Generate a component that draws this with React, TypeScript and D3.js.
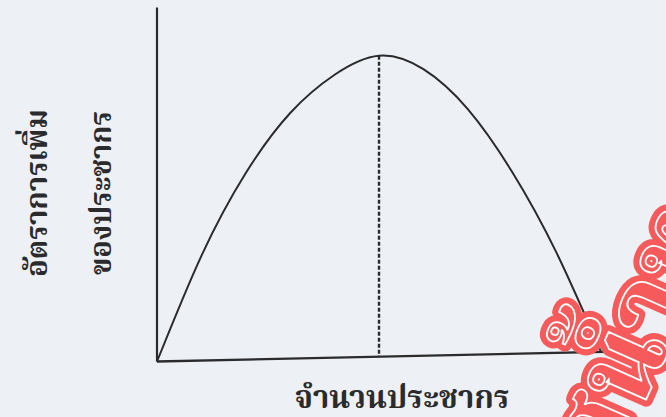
import React from "react";
import * as d3 from "d3";

// Population size (share of carrying capacity, %) and the growth rate at that size
const population = [0, 10, 20, 30, 40, 50, 60, 70, 80, 90, 100];
const growthRate = [0, 8.7, 15.5, 20.4, 23.5, 25.0, 23.8, 20.4, 15.1, 8.3, 0];

// Population at which growth peaks (dashed guide)
const peakPopulation = [50];

// Axis extents in data units
const xAxisEnd = [115];
const yAxisEnd = [29.4];

const xLabel = "จำนวนประชากร";
const yLabelLines = ["อัตราการเพิ่ม", "ของประชากร"];
const watermark = "สน้ำท";

const W = 666;
const H = 417;

export default function App() {
  const x = d3.scaleLinear().domain([0, 100]).range([157, 601]);
  const y = d3.scaleLinear().domain([0, 25]).range([361.5, 60.5]);

  const points: [number, number][] = population.map((p, i) => [p, growthRate[i]]);
  const line = d3
    .line<[number, number]>()
    .x((d) => x(d[0]))
    .y((d) => y(d[1]))
    .curve(d3.curveNatural);

  const peakIdx = growthRate.indexOf(d3.max(growthRate) as number);
  const peakX = x(peakPopulation[0]);

  const ox = x(0);
  const oy = y(0);
  const ink = "#2b2b2d";
  const thaiFont =
    "Norasi, Kinnari, 'Noto Serif Thai', 'Noto Sans Thai Looped', Garuda, Loma, 'Noto Sans Thai', 'DejaVu Serif', serif";

  return (
    <svg
      width={W}
      height={H}
      viewBox={`0 0 ${W} ${H}`}
      style={{ position: "absolute", left: 0, top: 0, background: "#edf0f4" }}
    >
      <rect x={0} y={0} width={W} height={H} fill="#edf0f4" />

      {/* plot area, with the page's slight baseline tilt */}
      <g transform={`translate(${ox},${oy}) skewY(-1.24) translate(${-ox},${-oy})`}>
        <line x1={ox} y1={y(0)} x2={ox} y2={y(yAxisEnd[0])} stroke={ink} strokeWidth={2.2} />
        <line x1={ox} y1={y(0)} x2={x(xAxisEnd[0])} y2={y(0)} stroke={ink} strokeWidth={2.4} />
        <line
          x1={peakX}
          y1={y(growthRate[peakIdx])}
          x2={peakX}
          y2={y(0)}
          stroke={ink}
          strokeWidth={2.4}
          strokeDasharray="4 2"
        />
        <path d={line(points) ?? ""} fill="none" stroke={ink} strokeWidth={2} />
      </g>

      {/* axis titles */}
      <text
        x={402}
        y={408}
        textAnchor="middle"
        fontFamily={thaiFont}
        fontWeight="bold"
        fontSize={32}
        textLength={215}
        lengthAdjust="spacingAndGlyphs"
        fill={ink}
      >
        {xLabel}
      </text>
      {yLabelLines.map((t, i) => (
        <text
          key={t}
          transform={`translate(${i === 0 ? 47 : 111},193) rotate(-90)`}
          textAnchor="middle"
          fontFamily={thaiFont}
          fontWeight="bold"
          fontSize={31}
          textLength={i === 0 ? 168 : 164}
          lengthAdjust="spacingAndGlyphs"
          fill={ink}
        >
          {t}
        </text>
      ))}

      {/* watermark */}
      <g transform="translate(612,476) rotate(-66)" fontFamily={thaiFont} fontWeight="bold" fontSize={112}>
        <text fill="#f65a5a" stroke="#f65a5a" strokeWidth={14} strokeLinejoin="round">
          {watermark}
        </text>
        <text fill="none" stroke="#ffffff" strokeWidth={1.8}>
          {watermark}
        </text>
      </g>
    </svg>
  );
}
